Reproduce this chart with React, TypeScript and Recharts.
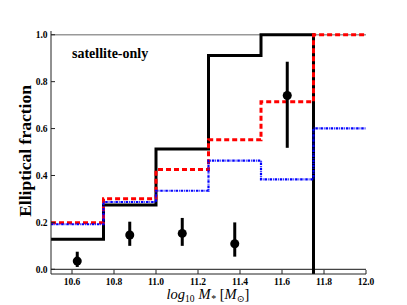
import * as React from "react";
import {
  ComposedChart,
  Line,
  Scatter,
  ErrorBar,
  XAxis,
  YAxis,
  ReferenceLine,
} from "recharts";

// bin edges in log10 stellar mass
const binEdges = [10.5, 10.75, 11.0, 11.25, 11.5, 11.75, 12.0];

// per-bin elliptical fractions (step histograms)
const blackSolid = [0.128, 0.274, 0.513, 0.912, 1.0, -0.5];
const redDashed = [0.199, 0.301, 0.425, 0.552, 0.714, 1.0];
const blueDashDot = [0.192, 0.287, 0.335, 0.463, 0.383, 0.601];

// observed points with asymmetric errors [down, up]
const obsMass = [10.625, 10.875, 11.125, 11.375, 11.625];
const obsFrac = [0.035, 0.146, 0.153, 0.109, 0.741];
const obsErrDown = [0.025, 0.046, 0.053, 0.055, 0.223];
const obsErrUp = [0.04, 0.057, 0.066, 0.091, 0.144];

const xTicks = [10.6, 10.8, 11.0, 11.2, 11.4, 11.6, 11.8, 12.0];
const yTicks = [0.0, 0.2, 0.4, 0.6, 0.8, 1.0];

const toSteps = (vals: number[]) =>
  binEdges.map((x, i) => ({ x, y: vals[Math.min(i, vals.length - 1)] }));

const obsData = obsMass.map((x, i) => ({
  x,
  y: obsFrac[i],
  err: [obsErrDown[i], obsErrUp[i]],
}));

const serif = "'Liberation Serif', 'DejaVu Serif', serif";
const tickStyle = { fontFamily: serif, fontWeight: 700, fontSize: 9.5, fill: "#000" };
const noLabel = () => <g />;

export default function App() {
  return (
    <div style={{ position: "absolute", left: 0, top: 0, background: "#fff" }}>
      <ComposedChart
        width={407}
        height={305}
        margin={{ top: 31, right: 41, bottom: 0, left: 0 }}
      >
        <XAxis
          dataKey="x"
          type="number"
          domain={[10.5, 12.0]}
          ticks={xTicks}
          tickFormatter={(v: number) => v.toFixed(1)}
          tickSize={-4}
          tickMargin={8}
          height={31}
          stroke="#222"
          tick={tickStyle}
          allowDataOverflow
        />
        <XAxis
          xAxisId="top"
          orientation="top"
          type="number"
          domain={[10.5, 12.0]}
          ticks={xTicks}
          tickSize={-4}
          height={0}
          stroke="#222"
          tick={noLabel}
        />
        <YAxis
          type="number"
          domain={[-0.02, 1.016]}
          ticks={yTicks}
          tickFormatter={(v: number) => v.toFixed(1)}
          tickSize={-4}
          tickMargin={7.5}
          width={51}
          stroke="#222"
          tick={tickStyle}
          allowDataOverflow
        />
        <YAxis
          yAxisId="right"
          orientation="right"
          type="number"
          domain={[-0.02, 1.016]}
          ticks={yTicks}
          tickSize={-4}
          width={0}
          stroke="#666"
          tick={noLabel}
        />
        <ReferenceLine y={1.0} stroke="#999" strokeWidth={1.5} />
        <ReferenceLine y={0.0} stroke="#444" strokeWidth={1.2} />
        <Line
          data={toSteps(blackSolid)}
          dataKey="y"
          type="stepAfter"
          stroke="#000"
          strokeWidth={3}
          dot={false}
          isAnimationActive={false}
        />
        <Line
          data={toSteps(redDashed)}
          dataKey="y"
          type="stepAfter"
          stroke="#ff0000"
          strokeWidth={3}
          strokeDasharray="5 3"
          dot={false}
          isAnimationActive={false}
        />
        <Line
          data={toSteps(blueDashDot)}
          dataKey="y"
          type="stepAfter"
          stroke="#0000ff"
          strokeWidth={2.2}
          strokeDasharray="2.5 0.9 0.8 0.9"
          dot={false}
          isAnimationActive={false}
        />
        <Scatter data={obsData} dataKey="y" fill="#000" isAnimationActive={false}>
          <ErrorBar dataKey="err" direction="y" width={0} stroke="#000" strokeWidth={3} />
        </Scatter>
        <text
          x={72}
          y={58}
          fontFamily={serif}
          fontWeight={700}
          fontSize={14}
          fill="#000"
        >
          satellite-only
        </text>
        <text
          x={25}
          y={151}
          transform="rotate(-90 25 151)"
          textAnchor="middle"
          dominantBaseline="central"
          fontFamily={serif}
          fontWeight={700}
          fontSize={17.5}
          fill="#000"
        >
          Elliptical fraction
        </text>
        <text x={208} y={299} textAnchor="middle" fontFamily={serif} fontSize={14.5} fill="#000">
          <tspan fontStyle="italic">log</tspan>
          <tspan fontSize={9.5} dy={3}>10</tspan>
          <tspan fontStyle="italic" dy={-3} dx={4}>M</tspan>
          <tspan fontStyle="italic" fontSize={10} dy={3}>*</tspan>
          <tspan dy={-3} dx={4}>[</tspan>
          <tspan fontStyle="italic">M</tspan>
          <tspan fontSize={9.5} dy={3}>⊙</tspan>
          <tspan dy={-3}>]</tspan>
        </text>
      </ComposedChart>
    </div>
  );
}
